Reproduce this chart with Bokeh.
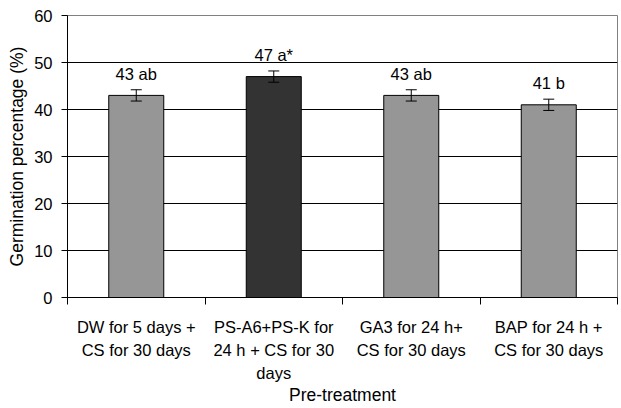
from bokeh.plotting import figure
from bokeh.models import (ColumnDataSource, FixedTicker, LinearAxis, Range1d,
                          Whisker, TeeHead)
from bokeh.core.properties import value
from bokeh.embed import file_html
from bokeh.resources import INLINE

# ---- data ----
categories = ["DW for 5 days +\nCS for 30 days",
              "PS-A6+PS-K for\n24 h + CS for 30\ndays",
              "GA3 for 24 h+\nCS for 30 days",
              "BAP for 24 h +\nCS for 30 days"]
germination = [43, 47, 43, 41]
errors = [1.2, 1.2, 1.2, 1.2]
letters = ["43 ab", "47 a*", "43 ab", "41 b"]
bar_colors = ["#969696", "#333333", "#969696", "#969696"]
y_ticks = [0, 10, 20, 30, 40, 50, 60]

FONT = "Liberation Sans"
FS = "16.5px"
FS_LABEL = "17.5px"

xs = list(range(1, len(categories) + 1))
src = ColumnDataSource(dict(
    x=xs, top=germination,
    upper=[v + e for v, e in zip(germination, errors)],
    lower=[v - e for v, e in zip(germination, errors)],
    lab=letters, color=bar_colors,
))

p = figure(width=621, height=408, output_backend="svg", toolbar_location=None,
           x_range=Range1d(0.5, len(categories) + 0.5), y_range=Range1d(0, 60),
           min_border_left=67, min_border_right=4, min_border_top=15,
           min_border_bottom=111)

p.background_fill_color = "white"
p.border_fill_color = "white"
p.outline_line_color = "#808080"
p.outline_line_width = 1

# bars
p.vbar(x="x", top="top", width=0.4, source=src, fill_color="color",
       line_color="black", line_width=1)

# error bars (drawn above the bars)
w = Whisker(base="x", upper="upper", lower="lower", source=src,
            line_color="black", line_width=1, level="overlay",
            upper_head=TeeHead(size=11, line_color="black", line_width=1),
            lower_head=TeeHead(size=11, line_color="black", line_width=1))
p.add_layout(w)

# value labels
p.text(x="x", y="upper", text="lab", source=src, text_align="center",
       text_baseline="bottom", y_offset=-7, text_font=value(FONT),
       text_font_size=FS, text_color="black")

# grid
p.xgrid.visible = False
p.ygrid.ticker = FixedTicker(ticks=y_ticks[1:-1])
p.ygrid.grid_line_color = "black"
p.ygrid.grid_line_width = 1

# y axis
p.yaxis.ticker = FixedTicker(ticks=y_ticks)
p.yaxis.axis_label = "Germination percentage (%)"
p.yaxis.axis_label_text_font = FONT
p.yaxis.axis_label_text_font_size = FS_LABEL
p.yaxis.axis_label_text_font_style = "normal"
p.yaxis.axis_label_text_color = "black"
p.yaxis.axis_label_standoff = 4
p.yaxis.major_label_text_font = FONT
p.yaxis.major_label_text_font_size = FS
p.yaxis.major_label_text_color = "black"
p.yaxis.major_label_standoff = 9
p.yaxis.major_tick_out = 6
p.yaxis.major_tick_in = 0
p.yaxis.minor_tick_line_color = None
p.yaxis.axis_line_color = "black"
p.yaxis.major_tick_line_color = "black"

# x axis with boundary ticks only
bounds = [i + 0.5 for i in range(len(categories) + 1)]
p.xaxis.ticker = FixedTicker(ticks=bounds)
p.xaxis.major_label_overrides = {b: "" for b in bounds}
p.xaxis.major_label_text_font_size = "0px"
p.xaxis.major_label_standoff = 0
p.xaxis.major_tick_out = 7
p.xaxis.major_tick_in = 0
p.xaxis.minor_tick_line_color = None
p.xaxis.axis_line_color = "black"
p.xaxis.major_tick_line_color = "black"

# x axis with category labels
ax2 = LinearAxis(ticker=FixedTicker(ticks=xs),
                 major_label_overrides={x: c for x, c in zip(xs, categories)})
ax2.axis_line_color = None
ax2.major_tick_line_color = None
ax2.minor_tick_line_color = None
ax2.major_tick_out = 0
ax2.major_tick_in = 0
ax2.major_label_standoff = 13
ax2.major_label_text_font = FONT
ax2.major_label_text_font_size = FS
ax2.major_label_text_color = "black"
ax2.major_label_text_line_height = 1.3
ax2.axis_label = "Pre-treatment"
ax2.axis_label_text_font = FONT
ax2.axis_label_text_font_size = FS_LABEL
ax2.axis_label_text_font_style = "normal"
ax2.axis_label_text_color = "black"
ax2.axis_label_standoff = 0
p.add_layout(ax2, "below")

open("out.html", "w").write(file_html(p, INLINE))
